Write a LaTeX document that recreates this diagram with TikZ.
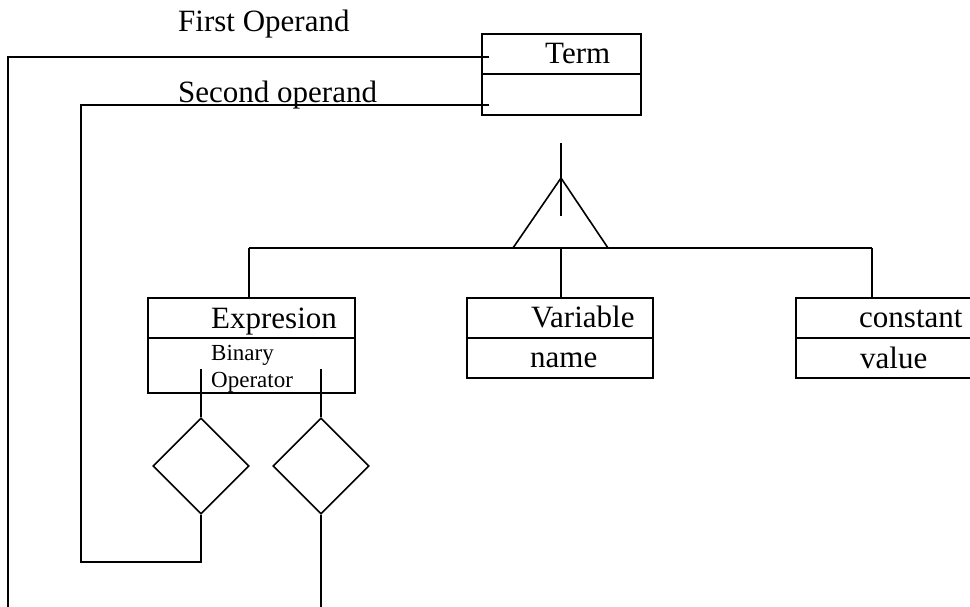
\documentclass[tikz,border=0pt]{standalone}
\usepackage{fontspec}
\setmainfont{Liberation Serif}
\usetikzlibrary{shapes.geometric}
\begin{document}
\begin{tikzpicture}[x=1pt,y=-1pt,
  conn/.style={line width=1.6pt},
  boxline/.style={line width=2.6pt},
  umlbox/.style={draw,line width=2.6pt,rectangle,inner sep=0pt},
  lbl/.style={anchor=base west,inner sep=0pt,font=\fontsize{31}{36}\selectfont},
  small/.style={anchor=base west,inner sep=0pt,font=\fontsize{23}{27}\selectfont},
  dmd/.style={draw,diamond,line width=1.6pt,minimum width=96pt,minimum height=96pt,inner sep=0pt}]
\clip (0,0) rectangle (970,607);
\fill[white] (0,0) rectangle (970,607);
% Term box
\node[umlbox,minimum width=159pt,minimum height=81pt] (term) at (561.5,74.5) {};
\draw[boxline] (term.west |- 0,74) coordinate (tdl) -- (term.east |- 0,74) coordinate (tdr);
\node[lbl] (termt) at (545,64) {Term};
% Expresion box
\node[umlbox,minimum width=207pt,minimum height=95pt] (expr) at (251.5,345.5) {};
\draw[boxline] (expr.west |- 0,338) coordinate (edl) -- (expr.east |- 0,338) coordinate (edr);
\node[lbl] (exprt) at (211,328) {Expresion};
\node[small] (bin) at (211,360) {Binary};
\node[small] (op) at (211,387) {Operator};
% Variable box
\node[umlbox,minimum width=186pt,minimum height=80pt] (var) at (560,338) {};
\draw[boxline] (var.west |- 0,338) coordinate (vdl) -- (var.east |- 0,338) coordinate (vdr);
\node[lbl] (vart) at (531,327) {Variable};
\node[lbl] (namet) at (530,367) {name};
% constant box
\node[umlbox,minimum width=190pt,minimum height=80pt] (const) at (891,338) {};
\draw[boxline] (const.west |- 0,338) coordinate (cdl) -- (const.east |- 0,338) coordinate (cdr);
\node[lbl] (constt) at (859,327) {constant};
\node[lbl] (valt) at (860,368) {value};
% operand labels
\node[lbl] (fop) at (178,32) {First Operand};
\node[lbl] (sop) at (178,103) {Second operand};
% diamonds
\node[dmd] (d1) at (201,466) {};
\node[dmd] (d2) at (321,466) {};
% first operand connector
\coordinate (a1) at (489,57);
\coordinate (a2) at (8,57);
\coordinate (a3) at (8,607);
\draw[conn] (a1) -- (a2) -- (a3);
% second operand connector
\coordinate (b1) at (489,105);
\coordinate (b2) at (81,105);
\coordinate (b3) at (81,562);
\coordinate (b4) at (201,562);
\draw[conn] (b1) -- (b2) -- (b3) -- (b4) -- (d1.south);
% diamonds to expression
\coordinate (e1) at (201,369);
\coordinate (e2) at (321,369);
\draw[conn] (d1.north) -- (e1);
\draw[conn] (d2.north) -- (e2);
\coordinate (f2) at (321,607);
\draw[conn] (d2.south) -- (f2);
% generalisation
\coordinate (g1) at (561,143);
\coordinate (g2) at (561,216);
\draw[conn] (g1) -- (g2);
\coordinate (tap) at (561,178);
\coordinate (tbl) at (513,248);
\coordinate (tbr) at (608,248);
\draw[conn] (tap) -- (tbl) -- (tbr) -- cycle;
\coordinate (h1) at (249,248);
\coordinate (h2) at (872,248);
\draw[conn] (h1) -- (h2);
\draw[conn] (h1) -- (h1 |- expr.north);
\draw[conn] (561,248) coordinate (hv) -- (hv |- var.north);
\draw[conn] (h2) -- (h2 |- const.north);
\end{tikzpicture}
\end{document}
